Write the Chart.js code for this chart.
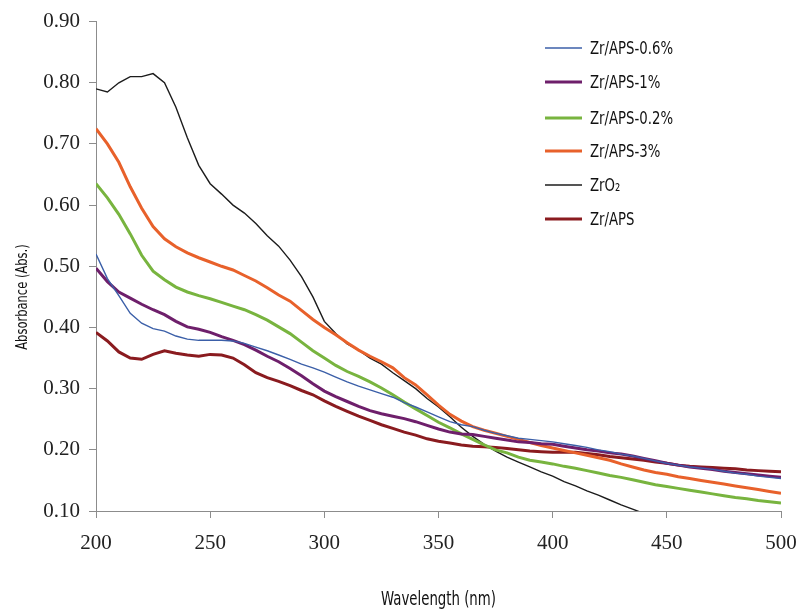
<!DOCTYPE html>
<html>
<head>
<meta charset="utf-8">
<script src="https://cdn.jsdelivr.net/npm/chart.js@4"></script>
<style>
  html, body { margin: 0; padding: 0; background: #fff; }
  #wrap { width: 803px; height: 615px; }
</style>
</head>
<body>
<div id="wrap"><canvas id="chart" width="803" height="615"></canvas></div>
<script>
(function () {
  "use strict";

  // wavelengths, 5 nm steps
  var wavelengths = [];
  for (var w = 200; w <= 500; w += 5) wavelengths.push(w);

  var xTicks = [200, 250, 300, 350, 400, 450, 500];
  var yTicks = [0.10, 0.20, 0.30, 0.40, 0.50, 0.60, 0.70, 0.80, 0.90];

  var labels = ["Zr/APS-0.6%", "Zr/APS-1%", "Zr/APS-0.2%", "Zr/APS-3%", "ZrO\u2082", "Zr/APS"];
  var xTitle = "Wavelength (nm)";
  var yTitle = "Absorbance (Abs.)";

  var aps06 = [0.52, 0.48, 0.452, 0.423, 0.407, 0.398, 0.394, 0.386, 0.381, 0.379, 0.379, 0.379, 0.378,
    0.374, 0.368, 0.362, 0.355, 0.348, 0.34, 0.334, 0.327, 0.319, 0.311, 0.304, 0.298, 0.292, 0.286,
    0.277, 0.27, 0.262, 0.254, 0.246, 0.241, 0.238, 0.232, 0.227, 0.223, 0.219, 0.217, 0.215, 0.213,
    0.21, 0.207, 0.204, 0.2, 0.197, 0.193, 0.19, 0.186, 0.182, 0.178, 0.175, 0.172, 0.17, 0.168,
    0.165, 0.162, 0.16, 0.157, 0.155, 0.153];

  var aps1 = [0.497, 0.475, 0.458, 0.448, 0.438, 0.429, 0.421, 0.41, 0.401, 0.397, 0.392, 0.385, 0.379,
    0.372, 0.363, 0.353, 0.344, 0.333, 0.321, 0.308, 0.296, 0.287, 0.279, 0.271, 0.264, 0.259, 0.255,
    0.251, 0.246, 0.24, 0.234, 0.229, 0.226, 0.225, 0.222, 0.219, 0.216, 0.213, 0.212, 0.21, 0.209,
    0.206, 0.203, 0.2, 0.198, 0.195, 0.193, 0.19, 0.186, 0.182, 0.178, 0.175, 0.172, 0.17, 0.168,
    0.165, 0.163, 0.161, 0.159, 0.157, 0.155];

  var aps02 = [0.635, 0.612, 0.585, 0.553, 0.518, 0.492, 0.478, 0.466, 0.458, 0.452, 0.447, 0.441, 0.435,
    0.429, 0.421, 0.412, 0.401, 0.39, 0.376, 0.362, 0.35, 0.338, 0.328, 0.32, 0.311, 0.301, 0.29,
    0.278, 0.267, 0.256, 0.245, 0.236, 0.226, 0.217, 0.208, 0.2, 0.195, 0.188, 0.183, 0.18, 0.177,
    0.173, 0.17, 0.166, 0.162, 0.158, 0.155, 0.151, 0.147, 0.143, 0.14, 0.137, 0.134, 0.131, 0.128,
    0.125, 0.122, 0.12, 0.117, 0.115, 0.113];

  var aps3 = [0.725, 0.70, 0.67, 0.63, 0.595, 0.565, 0.545, 0.532, 0.522, 0.514, 0.507, 0.50, 0.494,
    0.485, 0.476, 0.465, 0.453, 0.443, 0.428, 0.413, 0.40, 0.388, 0.375, 0.363, 0.353, 0.344, 0.334,
    0.318, 0.306, 0.29, 0.273, 0.258, 0.247, 0.238, 0.232, 0.227, 0.222, 0.217, 0.212, 0.207, 0.203,
    0.199, 0.195, 0.191, 0.187, 0.183, 0.177, 0.172, 0.167, 0.163, 0.16, 0.156, 0.153, 0.15, 0.147,
    0.144, 0.141, 0.138, 0.135, 0.132, 0.129];

  var zro2 = [0.79, 0.785, 0.80, 0.81, 0.81, 0.815, 0.80, 0.76, 0.71, 0.665, 0.635, 0.618, 0.60,
    0.587, 0.57, 0.55, 0.533, 0.51, 0.483, 0.45, 0.41, 0.39, 0.373, 0.363, 0.35, 0.34, 0.326,
    0.313, 0.30, 0.284, 0.27, 0.254, 0.237, 0.222, 0.209, 0.198, 0.188, 0.18, 0.172, 0.164, 0.157,
    0.148, 0.141, 0.133, 0.126, 0.118, 0.11, 0.103, 0.096];

  var aps = [0.392, 0.378, 0.36, 0.35, 0.348, 0.356, 0.362, 0.358, 0.355, 0.353, 0.356, 0.355, 0.35,
    0.339, 0.326, 0.318, 0.312, 0.305, 0.297, 0.29, 0.28, 0.271, 0.263, 0.255, 0.248, 0.241, 0.235,
    0.229, 0.224, 0.218, 0.214, 0.211, 0.208, 0.206, 0.205, 0.204, 0.202, 0.2, 0.198, 0.197, 0.196,
    0.196, 0.196, 0.194, 0.192, 0.189, 0.187, 0.185, 0.183, 0.18, 0.178, 0.175, 0.173, 0.172, 0.171,
    0.17, 0.169, 0.167, 0.166, 0.165, 0.164];

  var series = [aps06, aps1, aps02, aps3, zro2, aps];
  var colors = ["#3b5fa8", "#6e1f6b", "#78b43f", "#e8612b", "#1c1c1c", "#8a1b1f"];
  var widths = [1.4, 3, 3, 3, 1.4, 3];

  var serif = '"Liberation Serif", "Times New Roman", serif';
  var narrow = '"Liberation Sans Narrow", "DejaVu Sans Condensed", sans-serif';

  function toPoints(values) {
    return values.map(function (v, i) { return { x: wavelengths[i], y: v }; });
  }

  var datasets = series.map(function (values, i) {
    return {
      label: labels[i],
      data: toPoints(values),
      borderColor: colors[i],
      borderWidth: widths[i],
      pointRadius: 0,
      tension: 0,
      fill: false,
    };
  });

  // condensed text: the original uses a narrow face, so squeeze horizontally
  function narrowText(ctx, text, x, y, size, squeeze, rotate) {
    ctx.save();
    ctx.translate(x, y);
    if (rotate) ctx.rotate(-Math.PI / 2);
    ctx.scale(squeeze, 1);
    ctx.font = size + "px " + narrow;
    ctx.fillStyle = "#111";
    ctx.textBaseline = "middle";
    ctx.textAlign = rotate ? "center" : "left";
    ctx.fillText(text, 0, 0);
    ctx.restore();
  }

  // legend inside the plot area (upper right) and the two axis titles
  var annotatePlugin = {
    id: "annotate",
    afterDraw: function (chart) {
      var ctx = chart.ctx;
      var rows = [48, 82, 118, 151, 185, 219];
      chart.data.datasets.forEach(function (ds, i) {
        var y = rows[i];
        ctx.save();
        ctx.beginPath();
        ctx.strokeStyle = ds.borderColor;
        ctx.lineWidth = ds.borderWidth;
        ctx.moveTo(545, y);
        ctx.lineTo(582, y);
        ctx.stroke();
        ctx.restore();
        narrowText(ctx, ds.label, 590, y + 1, 18, 0.82, false);
      });

      ctx.save();
      ctx.font = "20px " + narrow;
      var tw = ctx.measureText(xTitle).width * 0.74;
      ctx.restore();
      var cx = (chart.chartArea.left + chart.chartArea.right) / 2;
      narrowText(ctx, xTitle, cx - tw / 2, 600, 20, 0.74, false);
      narrowText(ctx, yTitle, 23, 297, 16, 0.8, true);
    },
  };

  new Chart(document.getElementById("chart").getContext("2d"), {
    type: "line",
    data: { datasets: datasets },
    options: {
      responsive: false,
      animation: false,
      layout: { padding: { top: 20, right: 22, left: 0, bottom: 0 } },
      plugins: {
        legend: { display: false },
        tooltip: { enabled: false },
      },
      scales: {
        x: {
          type: "linear",
          min: 200,
          max: 500,
          afterBuildTicks: function (axis) {
            axis.ticks = xTicks.map(function (v) { return { value: v }; });
          },
          afterFit: function (axis) {
            axis.height = 104;
            axis.paddingLeft = 0;
            axis.paddingRight = 0;
          },
          grid: {
            display: true,
            drawOnChartArea: false,
            drawTicks: true,
            tickLength: 7,
            color: "#8c8c8c",
          },
          border: { color: "#8c8c8c", width: 1 },
          ticks: {
            padding: 13,
            color: "#222",
            font: { family: serif, size: 21 },
            maxRotation: 0,
          },
        },
        y: {
          min: 0.1,
          max: 0.9,
          afterBuildTicks: function (axis) {
            axis.ticks = yTicks.map(function (v) { return { value: v }; });
          },
          afterFit: function (axis) { axis.width = 96; },
          grid: {
            display: true,
            drawOnChartArea: false,
            drawTicks: true,
            tickLength: 7,
            color: "#8c8c8c",
          },
          border: { color: "#8c8c8c", width: 1 },
          ticks: {
            padding: 9,
            color: "#222",
            font: { family: serif, size: 21 },
            callback: function (v) { return Number(v).toFixed(2); },
          },
        },
      },
    },
    plugins: [annotatePlugin],
  });
})();
</script>
</body>
</html>
